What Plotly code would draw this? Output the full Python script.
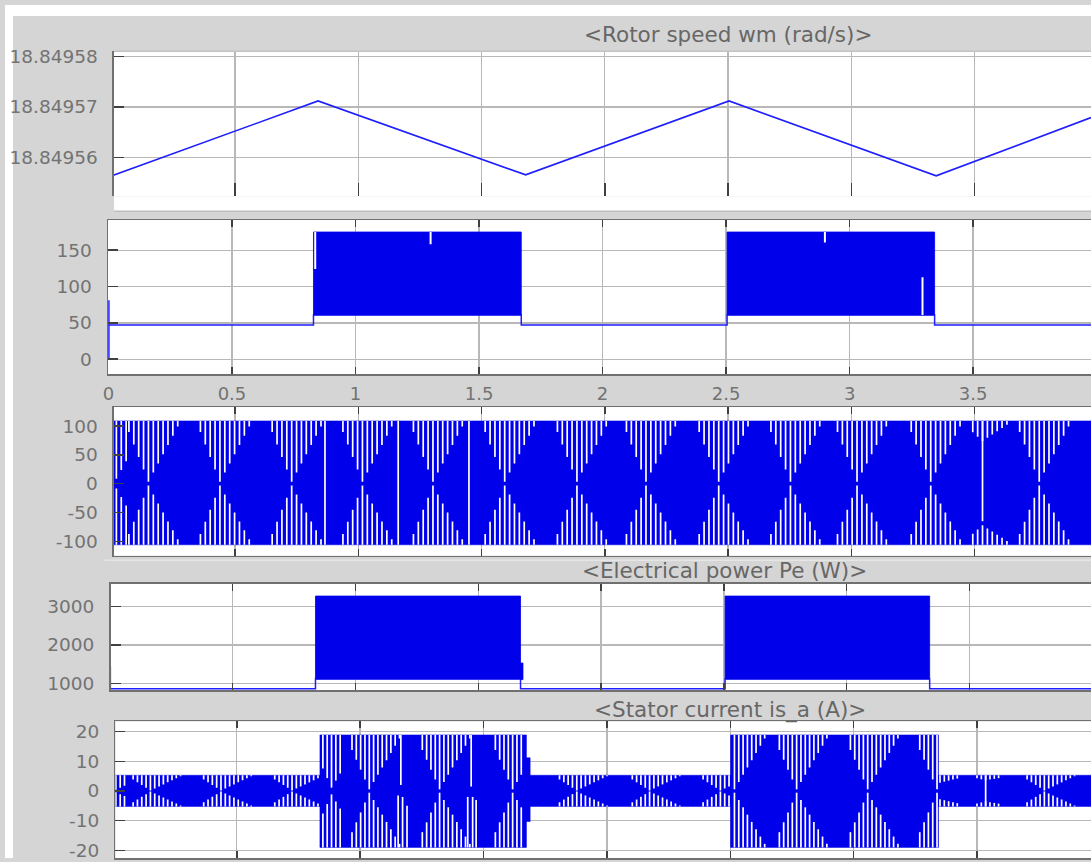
import plotly.graph_objects as go

FIG_W, FIG_H = 1091, 862

# ---------------- data ----------------
# time grid shared by all panels (s)
x_grid = [0.5, 1.0, 1.5, 2.0, 2.5, 3.0, 3.5]
x_ticks_p2 = [0, 0.5, 1.0, 1.5, 2.0, 2.5, 3.0, 3.5]
x_ticktext_p2 = ["0", "0.5", "1", "1.5", "2", "2.5", "3", "3.5"]

# Panel 1 : <Rotor speed wm (rad/s)>
speed_t = [0.0, 0.837, 1.679, 2.504, 3.344, 3.972]
speed_val = [18.8495563, 18.8495712, 18.8495565, 18.8495712, 18.8495563, 18.8495679]
speed_ticks = [18.84956, 18.84957, 18.84958]
speed_ticktext = ["18.84956", "18.84957", "18.84958"]

# Panel 2 : un-titled signal (baseline + switching band)
p2_base = 46.9
p2_band_start = [0.830, 2.504]
p2_band_end = [1.671, 3.344]
p2_band_low = 61.0
p2_band_high = 175.0
p2_notch_t = [0.837, 1.304, 2.900, 3.295]
p2_notch_hi = [175.0, 175.0, 175.0, 112.8]
p2_notch_lo = [124.0, 158.2, 160.5, 61.0]
p2_spike_t = [0.002]
p2_spike_lo = [1.4]
p2_spike_hi = [81.0]
p2_yticks = [0, 50, 100, 150]

# Panel 3 : un-titled oscillating signal (beat pattern)
p3_seg_start = [0.0]
p3_seg_end = [4.0]
p3_seg_top = [109.0]
p3_seg_bot = [-106.0]
p3_nodes = [0.019, 0.149, 0.439, 0.730, 1.017, 1.303, 1.594, 1.887, 2.167, 2.462, 2.753, 3.023, 3.322, 3.532, 3.762]
p3_reach_l = [0.0, 0.07, 0.07, 0.07, 0.07, 0.07, 0.07, 0.07, 0.07, 0.07, 0.07, 0.07, 0.07, 0.03, 0.07]
p3_reach_r = [0.03, 0.13, 0.13, 0.13, 0.13, 0.13, 0.13, 0.13, 0.13, 0.13, 0.13, 0.13, 0.13, 0.09, 0.13]
p3_depth = [0.95, 1, 1, 1, 1, 1, 1, 1, 1, 1, 1, 1, 1, 0.35, 1]
p3_cross_t = [0.865, 1.162, 1.449, 3.532]
p3_cross_hi = [109.0, 109.0, 109.0, 109.0]
p3_cross_lo = [-106.0, -106.0, -106.0, -65.0]
p3_yticks = [-100, -50, 0, 50, 100]

# Panel 4 : <Electrical power Pe (W)>
p4_base = 864.0
p4_band_start = [0.837, 2.505, 1.672]
p4_band_end = [1.672, 3.338, 1.682]
p4_band_low = [1120.0, 1120.0, 1103.0]
p4_band_high = [3267.0, 3267.0, 1531.0]
p4_spike_t = [0.002]
p4_spike_lo = [864.0]
p4_spike_hi = [1446.0]
p4_yticks = [1000, 2000, 3000]

# Panel 5 : <Stator current is_a (A)>
p5_seg_start = [0.0, 0.837, 1.674, 1.689, 2.501, 3.344]
p5_seg_end = [0.837, 1.674, 1.689, 2.501, 3.344, 4.0]
p5_seg_top = [5.3, 18.9, 11.2, 5.3, 18.9, 5.3]
p5_seg_bot = [-5.2, -19.0, -10.3, -5.2, -19.0, -5.2]
p5_nodes = [0.010, 0.150, 0.436, 0.724, 0.884, 1.037, 1.322, 1.618, 1.878, 2.173, 2.460, 2.517, 2.769, 3.057, 3.338, 3.350, 3.535, 3.773]
p5_reach_l = [0.0, 0.07, 0.07, 0.07, 0.04, 0.07, 0.07, 0.07, 0.07, 0.07, 0.07, 0.0, 0.07, 0.07, 0.07, 0.0, 0.03, 0.07]
p5_reach_r = [0.04, 0.13, 0.13, 0.13, 0.04, 0.12, 0.12, 0.12, 0.13, 0.13, 0.13, 0.13, 0.12, 0.12, 0.03, 0.07, 0.05, 0.13]
p5_depth = [0.95, 1, 1, 1, 0.97, 1, 1, 1, 1, 1, 1, 1, 1, 1, 1, 0.5, 0.35, 1]
p5_cross_t = [1.154, 1.165, 1.172, 1.190, 1.436, 1.450, 1.456, 1.470, 3.535]
p5_cross_hi = [-1.5, 18.9, -2.0, -5.0, -2.0, 18.9, -2.0, -3.0, 5.3]
p5_cross_lo = [-19.0, 2.0, -19.0, -19.0, -19.0, 1.5, -19.0, -19.0, -5.2]
p5_yticks = [-20, -10, 0, 10, 20]

# ---------------- style ----------------
FONT = "DejaVu Sans"
BLUE = "rgb(0,0,235)"
LINE_BLUE = "rgb(30,30,255)"
GRID = "#b8b8b8"
AXIS = "#707070"
TICK = "#404040"
LABEL = "#737373"
TITLE = "#676767"
BG = "#d5d5d5"
TAPER_L, TAPER_R = 0.10, 0.135


def fx(px):
    return px / FIG_W


def fy(py):
    return 1 - py / FIG_H


# panel boxes in pixels: (left, right, top, bottom) and axis ranges
panels = {
    1: dict(box=(109.5, 1091, 46.7, 193.5), xr=[0.0093, 3.972], yr=[18.8495522, 18.8495811]),
    2: dict(box=(103.5, 1091, 217.3, 373.3), xr=[-0.0016, 3.977], yr=[-20.9, 191.5]),
    3: dict(box=(109.5, 1091, 406.3, 556.5), xr=[0.0093, 3.972], yr=[-124.9, 133.0]),
    4: dict(box=(106.0, 1091, 585.0, 692.3), xr=[0.0024, 3.995], yr=[831.0, 3582.0]),
    5: dict(box=(111.0, 1091, 724.0, 862.0), xr=[0.0085, 3.962], yr=[-22.57, 23.43]),
}


def ax(n):
    return ("x" if n == 1 else f"x{n}"), ("y" if n == 1 else f"y{n}")


fig = go.Figure()


def add(n, **kw):
    xa, ya = ax(n)
    fig.add_trace(go.Scatter(xaxis=xa, yaxis=ya, hoverinfo="skip", showlegend=False, **kw))


def rect_path(starts, ends, lows, highs):
    xs, ys = [], []
    for s, e, lo, hi in zip(starts, ends, lows, highs):
        xs += [s, e, e, s, s, None]
        ys += [lo, lo, hi, hi, lo, None]
    return xs, ys


def step_line(x_min, x_max, starts, ends, base, low):
    xs, ys = [x_min], [base]
    for s, e in zip(starts, ends):
        xs += [s, s, e, e]
        ys += [base, low, low, base]
    xs.append(x_max)
    ys.append(base)
    return xs, ys


def slit_path(seg_start, seg_end, seg_top, seg_bot, nodes, rl_, rr_, dp_, step,
              cross_t, cross_hi, cross_lo):
    xs, ys = [], []
    for tn, rl, rr, dp in zip(nodes, rl_, rr_, dp_):
        si = max(i for i, s in enumerate(seg_start) if s <= tn)
        t0, t1 = seg_start[si], seg_end[si]
        top, bot = seg_top[si], seg_bot[si]
        k_lo = -int(round(rl / step))
        k_hi = int(round(rr / step))
        for k in range(k_lo, k_hi + 1):
            off = k * step
            t = tn + off
            if t < t0 + 0.3 * step or t > t1 - 0.3 * step:
                continue
            w = TAPER_L if off < 0 else TAPER_R
            f = dp * (1 - abs(off) / w)
            if f < 0.05:
                continue
            xs += [t, t, None, t, t, None]
            ys += [top, top * (1 - f + 0.03), None, bot, bot * (1 - f + 0.03), None]
    for t, hi, lo in zip(cross_t, cross_hi, cross_lo):
        xs += [t, t, None]
        ys += [hi, lo, None]
    return xs, ys


# ---- panel 1 ----
add(1, x=speed_t, y=speed_val, mode="lines", line=dict(color=LINE_BLUE, width=1.6))

# ---- panel 2 ----
bx, by = step_line(0.0, 4.0, p2_band_start, p2_band_end, p2_base, p2_band_low)
add(2, x=bx, y=by, mode="lines", line=dict(color=LINE_BLUE, width=1.5))
rx, ry = rect_path(p2_band_start, p2_band_end, [p2_band_low] * 2, [p2_band_high] * 2)
add(2, x=rx, y=ry, mode="lines", fill="toself", fillcolor=BLUE, line=dict(color=BLUE, width=0.8))
nx, ny = [], []
for t, hi, lo in zip(p2_notch_t, p2_notch_hi, p2_notch_lo):
    nx += [t, t, None]
    ny += [hi, lo, None]
add(2, x=nx, y=ny, mode="lines", line=dict(color="white", width=2.0))
sx, sy = [], []
for t, lo, hi in zip(p2_spike_t, p2_spike_lo, p2_spike_hi):
    sx += [t, t, None]
    sy += [lo, hi, None]
add(2, x=sx, y=sy, mode="lines", line=dict(color=LINE_BLUE, width=1.5))

# ---- panel 3 ----
rx, ry = rect_path(p3_seg_start, p3_seg_end, p3_seg_bot, p3_seg_top)
add(3, x=rx, y=ry, mode="lines", fill="toself", fillcolor=BLUE, line=dict(color=BLUE, width=0.5))
sx, sy = slit_path(p3_seg_start, p3_seg_end, p3_seg_top, p3_seg_bot, p3_nodes, p3_reach_l,
                   p3_reach_r, p3_depth, 0.0198, p3_cross_t, p3_cross_hi, p3_cross_lo)
add(3, x=sx, y=sy, mode="lines", line=dict(color="white", width=1.7))

# ---- panel 4 ----
bx, by = step_line(0.0, 4.0, p4_band_start[:2], p4_band_end[:2], p4_base, p4_band_low[0])
add(4, x=bx, y=by, mode="lines", line=dict(color=LINE_BLUE, width=1.5))
rx, ry = rect_path(p4_band_start, p4_band_end, p4_band_low, p4_band_high)
add(4, x=rx, y=ry, mode="lines", fill="toself", fillcolor=BLUE, line=dict(color=BLUE, width=0.8))
sx, sy = [], []
for t, lo, hi in zip(p4_spike_t, p4_spike_lo, p4_spike_hi):
    sx += [t, t, None]
    sy += [lo, hi, None]
add(4, x=sx, y=sy, mode="lines", line=dict(color="rgb(110,110,255)", width=1.5))

# ---- panel 5 ----
rx, ry = rect_path(p5_seg_start, p5_seg_end, p5_seg_bot, p5_seg_top)
add(5, x=rx, y=ry, mode="lines", fill="toself", fillcolor=BLUE, line=dict(color=BLUE, width=0.5))
sx, sy = slit_path(p5_seg_start, p5_seg_end, p5_seg_top, p5_seg_bot, p5_nodes, p5_reach_l,
                   p5_reach_r, p5_depth, 0.0175, p5_cross_t, p5_cross_hi, p5_cross_lo)
add(5, x=sx, y=sy, mode="lines", line=dict(color="white", width=1.7))

# ---------------- axes ----------------
yticks = {1: (speed_ticks, speed_ticktext), 2: (p2_yticks, [str(v) for v in p2_yticks]),
          3: (p3_yticks, [str(v) for v in p3_yticks]), 4: (p4_yticks, [str(v) for v in p4_yticks]),
          5: (p5_yticks, [str(v) for v in p5_yticks])}

layout_axes = {}
for n, p in panels.items():
    l, r, t, b = p["box"]
    xa, ya = ax(n)
    xkey = "xaxis" if n == 1 else f"xaxis{n}"
    ykey = "yaxis" if n == 1 else f"yaxis{n}"
    xcfg = dict(domain=[fx(l), fx(r)], range=p["xr"], anchor=ya, fixedrange=True,
                showgrid=True, gridcolor=GRID, gridwidth=1.3, zeroline=False,
                ticks="inside", tickcolor=TICK, tickwidth=1.5, ticklen=7,
                showline=True, linecolor=AXIS, linewidth=1.5, mirror="ticks",
                tickvals=x_grid, showticklabels=False,
                tickfont=dict(family=FONT, size=18, color=LABEL))
    if n == 1:
        xcfg.update(showline=False, mirror=False, ticklen=13)
    if n == 2:
        xcfg.update(tickvals=x_ticks_p2, ticktext=x_ticktext_p2, showticklabels=True,
                    ticklabelstandoff=2)
    tv, tt = yticks[n]
    ycfg = dict(domain=[fy(b), fy(t)], range=p["yr"], anchor=xa, fixedrange=True,
                showgrid=True, gridcolor=GRID, gridwidth=1.3, zeroline=False,
                ticks="inside", tickcolor=TICK, tickwidth=1.5, ticklen=10,
                showline=True, linecolor=AXIS, linewidth=1.5,
                tickvals=tv, ticktext=tt, showticklabels=True, ticklabelstandoff=11,
                tickfont=dict(family=FONT, size=18.5, color=LABEL))
    layout_axes[xkey] = xcfg
    layout_axes[ykey] = ycfg

shapes = [
    # white strips at the top and left of the screenshot
    dict(type="rect", xref="paper", yref="paper", x0=0, x1=1, y0=fy(11), y1=1,
         fillcolor="white", line=dict(width=0), layer="below"),
    dict(type="rect", xref="paper", yref="paper", x0=0, x1=fx(8), y0=0, y1=1,
         fillcolor="white", line=dict(width=0), layer="below"),
    # lower white part of panel 1 box
    dict(type="rect", xref="paper", yref="paper", x0=fx(109.5), x1=1, y0=fy(208.3), y1=fy(193.5),
         fillcolor="white", line=dict(width=0), layer="below"),
    dict(type="line", xref="paper", yref="paper", x0=fx(109.5), x1=1, y0=fy(46.7), y1=fy(46.7),
         line=dict(color="#c4c4c4", width=1.5)),
    dict(type="line", xref="paper", yref="paper", x0=fx(109.5), x1=1, y0=fy(208.3), y1=fy(208.3),
         line=dict(color="#bdbdbd", width=1.5)),
    dict(type="line", xref="paper", yref="paper", x0=fx(100), x1=1, y0=fy(561), y1=fy(561),
         line=dict(color="#efefef", width=1)),
]

annotations = [
    dict(text="&lt;Rotor speed wm (rad/s)&gt;", x=fx(726), y=fy(30)),
    dict(text="&lt;Electrical power Pe (W)&gt;", x=fx(722.6), y=fy(571.7)),
    dict(text="&lt;Stator current is_a (A)&gt;", x=fx(728.7), y=fy(712.3)),
]
for a in annotations:
    a.update(xref="paper", yref="paper", xanchor="center", yanchor="middle", showarrow=False,
             font=dict(family=FONT, size=21.5, color=TITLE))

fig.update_layout(
    width=FIG_W, height=FIG_H, autosize=False,
    margin=dict(l=0, r=0, t=0, b=0, pad=0),
    paper_bgcolor=BG, plot_bgcolor="white",
    showlegend=False, shapes=shapes, annotations=annotations,
    font=dict(family=FONT, color=LABEL),
    **layout_axes,
)

fig.write_html("out.html", config={"displayModeBar": False, "staticPlot": True})
